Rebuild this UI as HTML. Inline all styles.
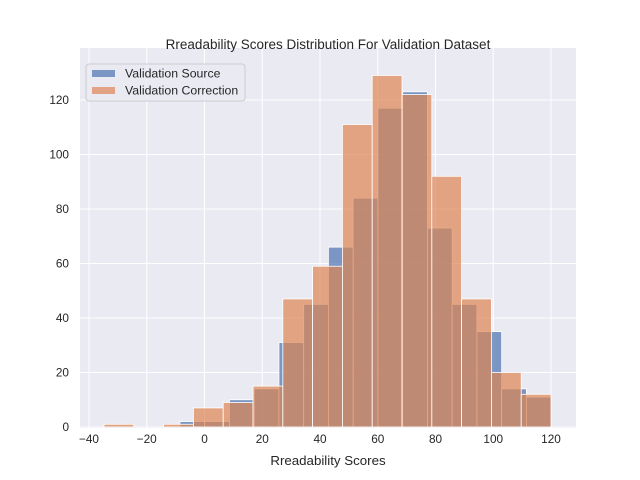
<!DOCTYPE html>
<html><head><meta charset="utf-8"><style>
body{margin:0;background:#fff;}
svg{display:block;font-family:"Liberation Sans",sans-serif;}
</style></head><body>
<svg id="chart" width="640" height="480"></svg>
<script>
const blueStart=-8.5, blueWidth=8.57;
const blueCounts=[2,2,10,14,31,45,66,84,117,123,73,45,35,14,11];
const orangeStart=-34.8, orangeWidth=10.32;
const orangeCounts=[1,0,1,7,9,15,47,59,111,129,122,92,47,20,12];
const xTicks=[-40,-20,0,20,40,60,80,100,120];
const yTicks=[0,20,40,60,80,100,120];
const NS='http://www.w3.org/2000/svg';
const svg=document.getElementById('chart');
const L=80,R=576,T=48,B=428;
const xs=v=>89+(v+40)*2.8875;
const ys=v=>427-v*2.725;
function mk(tag,attrs,parent){const e=document.createElementNS(NS,tag);for(const k in attrs)e.setAttribute(k,attrs[k]);(parent||svg).appendChild(e);return e;}
const bg=mk('rect',{x:L,y:T,width:R-L,height:B-T,fill:'#eaeaf2'});


xTicks.forEach(t=>{
  const g=mk('line',{x1:xs(t),x2:xs(t),y1:T,y2:B,stroke:'#fff','stroke-width':1});
  
  
  const tx=mk('text',{x:xs(t),y:B+15,'text-anchor':'middle','font-size':11.8,fill:'#262626'});
  tx.textContent=t<0?'\u2212'+(-t):t;
  
  
});
yTicks.forEach(t=>{
  const g=mk('line',{x1:L,x2:R,y1:ys(t),y2:ys(t),stroke:'#fff','stroke-width':1});
  
  
  const tx=mk('text',{x:L-11,y:ys(t)+4,'text-anchor':'end','font-size':11.8,fill:'#262626'});
  tx.textContent=t;
  
  
});
function drawBars(start,w,counts,color,name){
  counts.forEach((c,i)=>{
    const x0=xs(start+i*w),x1=xs(start+(i+1)*w);
    const r=mk('rect',{x:x0,y:ys(c),width:x1-x0,height:ys(0)-ys(c),fill:color,'fill-opacity':0.7,stroke:'#fff','stroke-width':0.8});
    
    
  });
}
drawBars(blueStart,blueWidth,blueCounts,'#4c72b0','source-bar');
drawBars(orangeStart,orangeWidth,orangeCounts,'#dd8452','correction-bar');
const title=mk('text',{x:328,y:49,'text-anchor':'middle','font-size':13.5,fill:'#262626'});
title.textContent='Rreadability Scores Distribution For Validation Dataset';


const xl=mk('text',{x:328,y:465,'text-anchor':'middle','font-size':13.3,fill:'#262626'});
xl.textContent='Rreadability Scores';


const lg=mk('g',{});


mk('rect',{x:86,y:64,width:159,height:37,rx:3,fill:'#eaeaf2','fill-opacity':0.8,stroke:'#ccc'},lg);
const e1=mk('rect',{x:92,y:70,width:23,height:7,fill:'#4c72b0','fill-opacity':0.7},lg);


const t1=mk('text',{x:125,y:77.5,'font-size':12.3,fill:'#262626'},lg);
t1.textContent='Validation Source';


const e2=mk('rect',{x:92,y:87,width:23,height:7,fill:'#dd8452','fill-opacity':0.7},lg);


const t2=mk('text',{x:125,y:94.5,'font-size':12.3,fill:'#262626'},lg);
t2.textContent='Validation Correction';


</script>
</body></html>
